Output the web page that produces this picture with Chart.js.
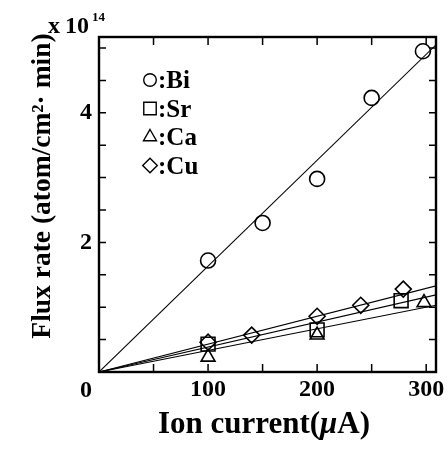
<!DOCTYPE html>
<html lang="en">
<head>
<meta charset="UTF-8">
<title>Flux rate vs ion current</title>
<script src="https://cdn.jsdelivr.net/npm/chart.js"></script>
<style>
    html, body { margin: 0; padding: 0; background: #fff; }
    .chart-box { width: 448px; height: 449px; }
</style>
</head>
<body>
<div class="chart-box"><canvas id="fluxChart"></canvas></div>
<script>
// measured points (ion current in uA, flux in 1e14 atom/cm2 min)
const biX = [100, 150, 200, 250, 297];
const biY = [1.72, 2.30, 2.98, 4.23, 4.95];
const srX = [100, 200, 277];
const srY = [0.43, 0.65, 1.10];
const caX = [100, 200, 298];
const caY = [0.23, 0.57, 1.07];
const cuX = [100, 140, 200, 240, 279];
const cuY = [0.46, 0.57, 0.86, 1.03, 1.28];

// straight fit lines through the origin, end values read at right frame
const fitX = [0, 309];
const biFit = [0, 5.05];
const srFit = [0, 1.19];
const caFit = [0, 1.03];
const cuFit = [0, 1.33];

const xTickLabels = [0, 100, 200, 300];
const yTickLabels = [0, 2, 4];
const legendNames = ['Bi', 'Sr', 'Ca', 'Cu'];
const legendStyles = ['circle', 'rect', 'triangle', 'rectRot'];

const FONT = '"Liberation Serif", "Times New Roman", serif';

function pts(xs, ys) {
    return xs.map(function(x, i) { return { x: x, y: ys[i] }; });
}

function markerSet(label, xs, ys, style, r) {
    return {
        label: label,
        data: pts(xs, ys),
        pointStyle: style,
        pointRadius: r,
        pointBorderWidth: 1.6,
        pointBorderColor: '#000',
        pointBackgroundColor: 'rgba(0,0,0,0)',
        showLine: false
    };
}

function fitSet(ys) {
    return {
        label: 'fit',
        data: pts(fitX, ys),
        showLine: true,
        borderColor: '#000',
        borderWidth: 1.1,
        pointRadius: 0,
        fill: false
    };
}

function drawShape(ctx, style, x, y, r) {
    ctx.beginPath();
    if (style === 'circle') {
        ctx.arc(x, y, r, 0, Math.PI * 2);
    } else if (style === 'rect') {
        const s = r * Math.SQRT1_2;
        ctx.rect(x - s, y - s, 2 * s, 2 * s);
    } else if (style === 'triangle') {
        ctx.moveTo(x, y - r);
        ctx.lineTo(x + r * 0.866, y + r / 2);
        ctx.lineTo(x - r * 0.866, y + r / 2);
        ctx.closePath();
    } else {
        ctx.moveTo(x - r, y);
        ctx.lineTo(x, y - r);
        ctx.lineTo(x + r, y);
        ctx.lineTo(x, y + r);
        ctx.closePath();
    }
    ctx.stroke();
}

const decor = {
    id: 'decor',
    afterDraw(chart) {
        const ctx = chart.ctx;
        const a = chart.chartArea;
        const xs = chart.scales.x;
        const ys = chart.scales.y;
        ctx.save();
        ctx.strokeStyle = '#000';
        ctx.fillStyle = '#000';

        // inward ticks on all four sides
        ctx.lineWidth = 1.5;
        ctx.beginPath();
        for (let v = 50; v < xs.max; v += 50) {
            const px = xs.getPixelForValue(v);
            ctx.moveTo(px, a.bottom); ctx.lineTo(px, a.bottom - 8);
            ctx.moveTo(px, a.top); ctx.lineTo(px, a.top + 8);
        }
        for (let v = 0.5; v < ys.max; v += 0.5) {
            const py = ys.getPixelForValue(v);
            ctx.moveTo(a.left, py); ctx.lineTo(a.left + 7, py);
            ctx.moveTo(a.right, py); ctx.lineTo(a.right - 7, py);
        }
        ctx.stroke();

        // frame
        ctx.lineWidth = 2.4;
        ctx.strokeRect(a.left, a.top, a.right - a.left, a.bottom - a.top);

        // shared zero label
        ctx.font = 'bold 24px ' + FONT;
        ctx.textAlign = 'center';
        ctx.textBaseline = 'alphabetic';
        ctx.fillText(String(xTickLabels[0]), a.left - 13, 397);

        // x10^14
        ctx.textAlign = 'left';
        ctx.fillText('x', 48, 33);
        ctx.fillText('10', 65, 33);
        ctx.font = 'bold 13px ' + FONT;
        ctx.fillText('14', 92, 21);

        // legend
        ctx.lineWidth = 1.4;
        const sizes = [6.3, 8.8, 7.5, 7.3];
        ctx.font = 'bold 25px ' + FONT;
        for (let i = 0; i < legendNames.length; i++) {
            const ry = a.top + 43 + i * 28.5;
            drawShape(ctx, legendStyles[i], a.left + 51, ry, sizes[i]);
            ctx.fillText(':' + legendNames[i], a.left + 59, ry + 8);
        }

        // x axis title with italic mu
        const p1 = 'Ion current(', p2 = '\u03bc', p3 = 'A)';
        const fb = 'bold 31px ' + FONT, fi = 'italic bold 31px ' + FONT;
        ctx.font = fb; const w1 = ctx.measureText(p1).width, w3 = ctx.measureText(p3).width;
        ctx.font = fi; const w2 = ctx.measureText(p2).width;
        let tx = 264 - (w1 + w2 + w3) / 2;
        ctx.font = fb; ctx.fillText(p1, tx, 433); tx += w1;
        ctx.font = fi; ctx.fillText(p2, tx, 433); tx += w2;
        ctx.font = fb; ctx.fillText(p3, tx, 433);

        // y axis title
        ctx.translate(50, 186);
        ctx.rotate(-Math.PI / 2);
        ctx.textAlign = 'center';
        ctx.font = 'bold 27.5px ' + FONT;
        ctx.fillText('Flux rate (atom/cm\u00b2\u00b7 min)', 0, 0);
        ctx.restore();
    }
};

const ctx = document.getElementById('fluxChart').getContext('2d');
const fluxChart = new Chart(ctx, {
    type: 'scatter',
    data: {
        datasets: [
            fitSet(biFit), fitSet(srFit), fitSet(caFit), fitSet(cuFit),
            markerSet('Bi', biX, biY, 'circle', 7.5),
            markerSet('Sr', srX, srY, 'rect', 9.8),
            markerSet('Ca', caX, caY, 'triangle', 8),
            markerSet('Cu', cuX, cuY, 'rectRot', 8)
        ]
    },
    options: {
        animation: false,
        responsive: true,
        maintainAspectRatio: false,
        layout: { padding: { top: 37, right: 12, left: 0, bottom: 0 } },
        plugins: { legend: { display: false }, tooltip: { enabled: false } },
        scales: {
            x: {
                type: 'linear', min: 0, max: 309,
                afterBuildTicks: function(s) { s.ticks = xTickLabels.map(function(v) { return { value: v }; }); },
                afterFit: function(s) { s.height = 77; },
                grid: { display: false, drawTicks: false },
                border: { display: false },
                ticks: {
                    autoSkip: false, maxRotation: 0,
                    padding: 3, color: '#000',
                    font: { family: FONT, size: 24, weight: 'bold' },
                    callback: function(v) { return v === xTickLabels[0] ? '' : v; }
                }
            },
            y: {
                type: 'linear', min: 0, max: 5.17,
                afterBuildTicks: function(s) { s.ticks = yTickLabels.map(function(v) { return { value: v }; }); },
                afterFit: function(s) { s.width = 99; },
                grid: { display: false, drawTicks: false },
                border: { display: false },
                ticks: {
                    autoSkip: false, padding: 7, color: '#000',
                    font: { family: FONT, size: 24, weight: 'bold' },
                    callback: function(v) { return v === yTickLabels[0] ? '' : v; }
                }
            }
        }
    },
    plugins: [decor]
});
</script>
</body>
</html>
